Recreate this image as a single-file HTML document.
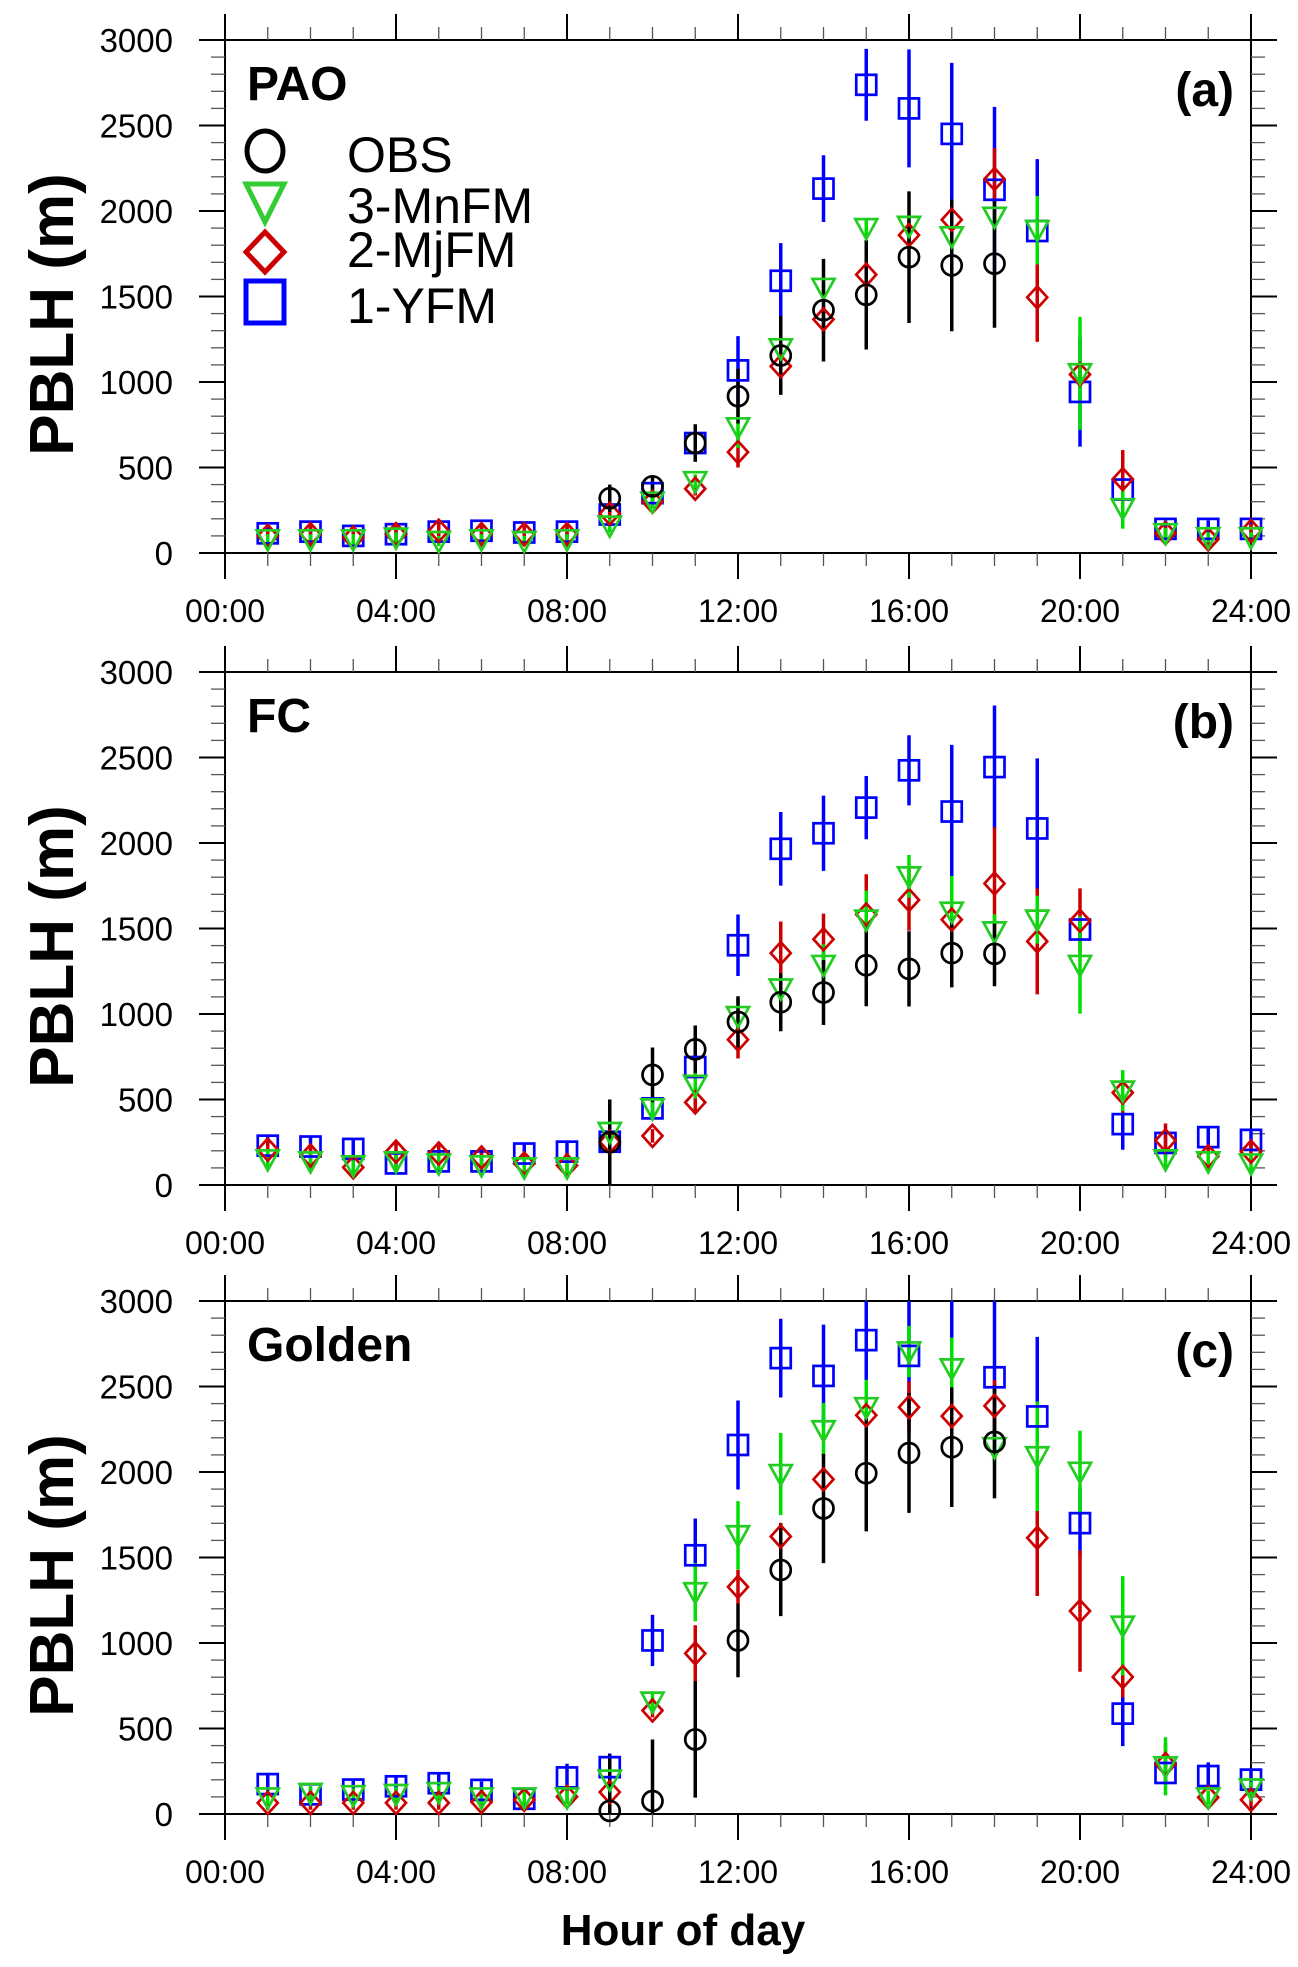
<!DOCTYPE html>
<html><head><meta charset="utf-8"><title>PBLH diurnal</title>
<style>
html,body{margin:0;padding:0;background:#fff;}
svg{display:block;font-family:"Liberation Sans",Arial,sans-serif;}
</style></head>
<body>
<svg id="chart" width="1298" height="1967" viewBox="0 0 1298 1967" xmlns="http://www.w3.org/2000/svg">
<text x="683" y="1945" font-size="44" font-weight="bold" text-anchor="middle">Hour of day</text>
</svg>
<script>
const hours = [1,2,3,4,5,6,7,8,9,10,11,12,13,14,15,16,17,18,19,20,21,22,23,24];
const yTicks = [0,500,1000,1500,2000,2500,3000];
const xTickLabels = ["00:00","04:00","08:00","12:00","16:00","20:00","24:00"];
const seriesNames = ["OBS","3-MnFM","2-MjFM","1-YFM"];
const panelNames = ["PAO","FC","Golden"];
const panelTags = ["(a)","(b)","(c)"];
const N = null;

// Panel (a) PAO
const aObs    = [N,N,N,N,N,N,N,N,320,390,643,917,1155,1420,1510,1730,1682,1692,N,N,N,N,N,N];
const aObsErr = [0,0,0,0,0,0,0,0,80,60,110,160,230,300,320,385,385,375,0,0,0,0,0,0];
const aMn     = [80,80,80,90,70,80,70,80,160,300,420,735,1197,1550,1900,1913,1852,1966,1888,1051,262,116,92,92];
const aMnErr  = [30,30,30,30,30,30,30,30,40,40,40,120,60,60,60,60,60,80,200,330,120,30,30,30];
const aMj     = [100,110,90,110,130,110,110,110,230,300,376,590,1092,1366,1628,1859,1949,2187,1495,1044,432,116,80,129];
const aMjErr  = [40,50,40,50,50,50,50,50,60,40,40,90,140,80,80,80,80,180,260,80,170,40,40,40];
const aY      = [115,125,100,110,125,130,120,125,225,350,643,1068,1592,2131,2738,2600,2451,2124,1883,942,371,141,141,141];
const aYErr   = [40,40,40,40,40,40,40,40,50,50,60,200,220,195,210,345,415,485,420,320,100,50,50,40];

// Panel (b) FC
const bObs    = [N,N,N,N,N,N,N,N,250,644,793,954,1069,1126,1285,1264,1356,1352,N,N,N,N,N,N];
const bObsErr = [0,0,0,0,0,0,0,0,250,160,140,150,170,190,240,220,200,190,0,0,0,0,0,0];
const bMn     = [150,138,115,138,126,115,103,103,310,448,586,988,1149,1287,1552,1805,1598,1483,1552,1287,552,150,138,126];
const bMnErr  = [50,50,50,50,50,50,50,50,50,60,80,100,60,120,170,125,210,100,140,285,120,50,50,50];
const bMj     = [207,172,103,195,184,161,126,115,253,287,483,850,1356,1437,1582,1667,1552,1763,1425,1545,540,260,168,195];
const bMjErr  = [60,60,40,60,50,50,50,50,60,40,60,110,185,150,235,180,120,330,310,190,120,100,60,60];
const bY      = [230,225,211,126,138,138,184,195,253,448,690,1402,1966,2057,2207,2425,2184,2444,2085,1494,356,246,280,264];
const bYErr   = [60,60,60,60,50,50,60,60,60,60,90,180,215,220,185,205,390,360,410,60,150,60,60,50];

// Panel (c) Golden
const cObs    = [N,N,N,N,N,N,N,N,18,76,436,1015,1427,1787,1993,2111,2145,2176,N,N,N,N,N,N];
const cObsErr = [0,0,0,0,0,0,0,0,330,360,340,215,270,320,340,350,350,330,0,0,0,0,0,0];
const cMn     = [97,123,110,117,128,97,97,97,201,657,1297,1630,1988,2244,2379,2705,2606,2145,2092,2001,1101,279,97,149];
const cMnErr  = [40,40,40,40,40,40,40,40,60,60,170,200,240,160,160,150,180,100,320,240,290,170,40,40];
const cMj     = [65,65,65,65,65,70,83,101,128,605,939,1328,1623,1957,2332,2379,2327,2387,1615,1187,801,292,97,83];
const cMjErr  = [40,40,40,40,40,40,40,40,60,40,165,100,80,60,80,150,80,150,340,355,120,120,40,40];
const cY      = [175,115,143,162,180,141,89,214,274,1015,1513,2158,2666,2562,2771,2679,3100,2554,2325,1701,587,240,222,201];
const cYErr   = [60,40,50,60,60,50,40,80,80,150,215,260,230,300,400,400,400,450,465,200,190,60,80,60];

const panelData = [
  {obs:aObs,obsE:aObsErr,mn:aMn,mnE:aMnErr,mj:aMj,mjE:aMjErr,y:aY,yE:aYErr},
  {obs:bObs,obsE:bObsErr,mn:bMn,mnE:bMnErr,mj:bMj,mjE:bMjErr,y:bY,yE:bYErr},
  {obs:cObs,obsE:cObsErr,mn:cMn,mnE:cMnErr,mj:cMj,mjE:cMjErr,y:cY,yE:cYErr}
];

const NS = "http://www.w3.org/2000/svg";
const svg = document.getElementById('chart');
const L = 225, R = 1251;
const panelTops = [40, 672, 1301];
const PH = 513;
const C = {obs:"#000", mn:"#22cc22", mnBar:"#00e000", mj:"#cc0000", y:"#0000ff"};

function mk(tag, attrs, parent){
  const e = document.createElementNS(NS, tag);
  for (const k in attrs) e.setAttribute(k, attrs[k]);
  (parent||svg).appendChild(e);
  return e;
}

panelTops.forEach((top, p) => {
  const bot = top + PH;
  const xs = h => L + (R - L) * h / 24;
  const ys = v => bot - (bot - top) * v / 3000;
  const g = mk('g', {});
  
  

  const cp = mk('clipPath', {id: 'clip' + p}, g);
  mk('rect', {x: L - 40, y: top, width: R - L + 80, height: bot - top + 40}, cp);

  const fr = mk('rect', {x: L, y: top, width: R - L, height: bot - top, fill: 'none', stroke: '#000', 'stroke-width': 2}, g);
  
  

  for (let v = 0; v <= 3000; v += 100) {
    const major = v % 500 === 0;
    const len = major ? 26 : 14;
    const yy = ys(v);
    mk('line', {x1: L - len, y1: yy, x2: L, y2: yy, stroke: major ? '#000' : '#555', 'stroke-width': major ? 2 : 1.3}, g);
    mk('line', {x1: R, y1: yy, x2: R + len, y2: yy, stroke: major ? '#000' : '#555', 'stroke-width': major ? 2 : 1.3}, g);
  }
  yTicks.forEach(v => {
    const t = mk('text', {x: 173, y: ys(v) + 12, 'font-size': 33, 'text-anchor': 'end'}, g);
    t.textContent = v;
    
    
  });
  for (let h = 0; h <= 24; h++) {
    const major = h % 4 === 0;
    const len = major ? 26 : 13;
    const xx = xs(h);
    mk('line', {x1: xx, y1: top - len, x2: xx, y2: top, stroke: major ? '#000' : '#555', 'stroke-width': major ? 2 : 1.3}, g);
    mk('line', {x1: xx, y1: bot, x2: xx, y2: bot + len, stroke: major ? '#000' : '#555', 'stroke-width': major ? 2 : 1.3}, g);
  }
  xTickLabels.forEach((lab, i) => {
    const t = mk('text', {x: xs(i * 4), y: bot + 69, 'font-size': 32, 'text-anchor': 'middle'}, g);
    t.textContent = lab;
    
    
  });

  const yt = mk('text', {x: 0, y: 0, 'font-size': 62, 'font-weight': 'bold', 'text-anchor': 'middle', transform: `translate(73,${(top + bot) / 2 + 18}) rotate(-90)`}, g);
  yt.textContent = 'PBLH (m)';
  
  

  const st = mk('text', {x: 247, y: top + 60, 'font-size': 48, 'font-weight': 'bold'}, g);
  st.textContent = panelNames[p];
  
  
  const tg = mk('text', {x: 1234, y: top + 66, 'font-size': 48, 'font-weight': 'bold', 'text-anchor': 'end'}, g);
  tg.textContent = panelTags[p];
  
  

  const d = panelData[p];
  const dg = mk('g', {'clip-path': `url(#clip${p})`}, g);
  const series = [
    {v: d.y, e: d.yE, col: C.y, bar: C.y, m: 'sq', n: 'yfm'},
    {v: d.mj, e: d.mjE, col: C.mj, bar: C.mj, m: 'di', n: 'mjfm'},
    {v: d.mn, e: d.mnE, col: C.mn, bar: C.mnBar, m: 'tri', n: 'mnfm'},
    {v: d.obs, e: d.obsE, col: C.obs, bar: C.obs, m: 'ci', n: 'obs'}
  ];
  series.forEach(s => {
    hours.forEach((h, i) => {
      if (s.v[i] === null || !s.e[i]) return;
      const b = mk('line', {x1: xs(h), x2: xs(h), y1: ys(Math.max(0, s.v[i] - s.e[i])), y2: ys(s.v[i] + s.e[i]), stroke: s.bar, 'stroke-width': 3.5}, dg);
      
      
    });
  });
  series.forEach(s => {
    hours.forEach((h, i) => {
      if (s.v[i] === null) return;
      const cx = xs(h), cy = ys(s.v[i]);
      if (cy < top) return;
      let el;
      const st = {fill: 'none', stroke: s.col, 'stroke-width': 2.7};
      if (s.m === 'sq') el = mk('rect', Object.assign({x: cx - 10, y: cy - 10, width: 20, height: 20}, st), dg);
      else if (s.m === 'di') el = mk('polygon', Object.assign({points: `${cx},${cy - 11} ${cx + 10},${cy} ${cx},${cy + 11} ${cx - 10},${cy}`}, st), dg);
      else if (s.m === 'tri') el = mk('polygon', Object.assign({points: `${cx - 11},${cy - 9} ${cx + 11},${cy - 9} ${cx},${cy + 11}`}, st), dg);
      else el = mk('circle', Object.assign({cx: cx, cy: cy, r: 10}, st), dg);
      
      
    });
  });
});

const lg = mk('g', {});


const legRows = [151, 202, 252, 302];
const legBase = [172, 223, 267, 323];
const lx = 265;
const l0 = mk('ellipse', {cx: lx, cy: legRows[0], rx: 18, ry: 20, fill: 'none', stroke: '#000', 'stroke-width': 5}, lg);
 
const l1 = mk('polygon', {points: `${lx - 19},${legRows[1] - 18} ${lx + 19},${legRows[1] - 18} ${lx},${legRows[1] + 20}`, fill: 'none', stroke: '#33cc33', 'stroke-width': 5}, lg);
 
const l2 = mk('polygon', {points: `${lx},${legRows[2] - 20} ${lx + 19},${legRows[2]} ${lx},${legRows[2] + 20} ${lx - 19},${legRows[2]}`, fill: 'none', stroke: '#cc0000', 'stroke-width': 5}, lg);
 
const l3 = mk('rect', {x: lx - 19, y: legRows[3] - 21, width: 38, height: 42, fill: 'none', stroke: '#0000ff', 'stroke-width': 5}, lg);
 
seriesNames.forEach((n, i) => {
  const t = mk('text', {x: 347, y: legBase[i], 'font-size': 50}, lg);
  t.textContent = n;
  
  
});
</script>
</body></html>
